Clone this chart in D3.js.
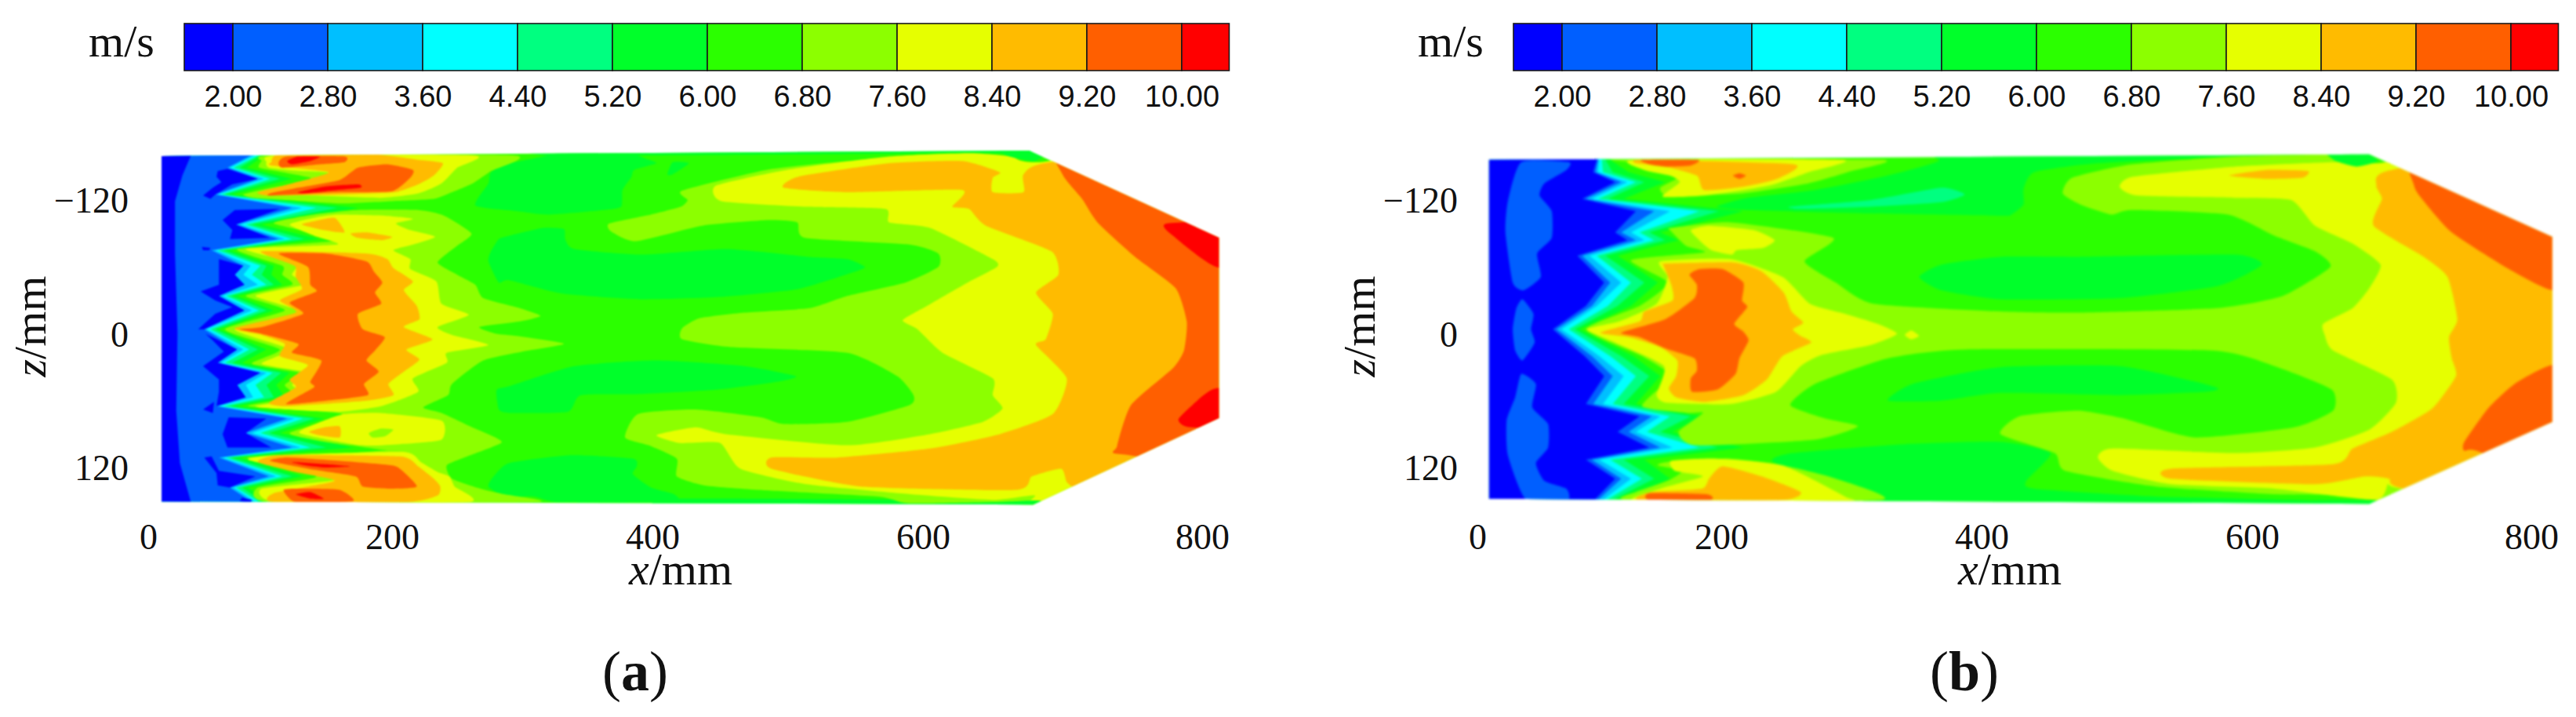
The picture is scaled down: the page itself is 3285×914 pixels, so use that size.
<!DOCTYPE html>
<html><head><meta charset="utf-8">
<script src="https://cdn.jsdelivr.net/npm/d3@7"></script>
<style>html,body{margin:0;background:#fff}svg{display:block}text{font-family:"Liberation Serif",serif;fill:#111}</style>
</head><body><script>
// ---- categories, ticks, colours
const barTicks=[2,2.8,3.6,4.4,5.2,6,6.8,7.6,8.4,9.2,10];
const barEdges=[1.59,2,2.8,3.6,4.4,5.2,6,6.8,7.6,8.4,9.2,10,10.4];
const bandColors=['#0000ff','#005fff','#00bfff','#00ffff','#00ff80','#00ff2a','#2bff00','#8cff00','#e6ff00','#ffbb00','#ff5f00','#ff0000'];
const xTicks=[0,200,400,600,800];
const zTicks=[-120,0,120];
const xPositions=[0,200,400,600,800];
const xPixels=[189,500,832,1177,1533];

// ---- panel (a): duct outline in mm [x,z]
const aOutline=[[11,-159.5],[676,-164.4],[812,-86.3],[812,75.7],[679,153.2],[11,150.4]];
// inlet iso-speed fronts: x (mm) at the z (mm) of each zigzag tip
const aTipZ=[-160,-149,-139,-125,-113,-98,-85,-75,-61,-53,-44,-34,-21,-4,14,26,35,46,57,65,76,89,102,111,128,138,150];
const aFront28=[84,65,90,55,118,72,107,52,78,71,79,58,79,46,73,57,92,73,80,56,114,80,118,58,99,67,84];
const aFront36=[87,67,95,57,126,76,112,55,84,78,90,61,85,48,78,60,97,80,86,58,120,85,125,61,105,70,87];
const aFront44=[90,70,100,60,138,80,118,57,92,85,97,64,91,51,83,63,102,88,95,62,127,92,133,64,110,72,90];
const aFront52=[92,75,108,63,155,85,128,62,97,93,103,68,97,55,90,69,109,97,103,67,136,99,146,68,118,77,93];
const aFront60=[95,81,118,69,172,93,140,67,103,101,110,73,103,58,97,77,116,105,112,73,144,108,168,75,127,82,97];
// below 6.0 m/s downstream
const aLow60=[
[[293,-157],[276,-145],[274,-135],[264,-115],[296,-110],[320,-107],[362,-111],[376,-114],[377,-129],[384,-141],[386,-147],[403,-153],[395,-157],[381,-162],[328,-162],[316,-159],[290,-153]],
[[411,-143],[415,-154],[427,-153],[415,-143]],
[[290,-88],[316,-95],[332,-94],[333,-85],[340,-76],[392,-71],[455,-76],[516,-69],[544,-67],[557,-60],[548,-55],[507,-40],[449,-33],[392,-31],[331,-36],[290,-48],[282,-46],[274,-65],[276,-74],[282,-85]],
[[290,47],[340,29],[403,24],[468,29],[506,38],[493,43],[449,50],[392,54],[345,55],[335,70],[290,71],[282,68],[280,52],[282,49]],
[[274,137],[278,128],[290,116],[337,109],[385,112],[388,119],[385,126],[399,138],[416,144],[416,151],[328,151],[309,146],[287,146]],
[[416,148],[620,149],[676,148],[680,156],[416,156]],
[[320,-160],[520,-161],[620,-162],[672,-162],[672,-168],[320,-168]]
];
// below 2.0 m/s
const aLow20=[
[[0,-170],[35,-170],[35,-160],[28,-142],[22,-119],[22,-72],[24,-1],[23,69],[26,116],[35,151],[35,165],[0,165]],
[[57,-146],[65,-148],[90,-139],[69,-134],[55,-125],[51,-121],[45,-124],[53,-131],[60,-136],[56,-141]],
[[61,-102],[71,-111],[108,-112],[72,-98],[100,-86],[67,-85],[69,-93]],
[[44,-78],[51,-77],[50,-75],[45,-75]],
[[58,-67],[78,-61],[71,-53],[79,-44],[58,-34],[79,-21],[46,-4],[41,-4],[55,-18],[69,-24],[55,-30],[43,-38],[58,-44],[58,-53]],
[[47,0],[73,14],[57,26],[92,35],[73,46],[80,57],[56,65],[58,52],[58,41],[45,29],[62,16],[52,5]],
[[45,68],[54,61],[53,71]],
[[66,75],[97,76],[80,89],[101,102],[65,102],[61,90]],
[[46,111],[52,110],[58,123],[88,128],[67,138],[57,136],[56,125]],
[[77,147],[85,149],[84,152],[75,150]]
];
const aHigh68=[
[[101,-160],[294,-160],[276,-146],[262,-135],[246,-127],[232,-121],[200,-119],[157,-117],[114,-120],[86,-122],[78,-125],[101,-131],[127,-136],[133,-140],[110,-145],[91,-149],[93,-155]],
[[103,-99],[136,-107],[172,-111],[220,-111],[240,-106],[261,-90],[250,-79],[235,-64],[250,-53],[264,-44],[270,-32],[298,-23],[314,-16],[298,-11],[267,-6],[280,0],[296,2],[332,9],[300,16],[270,24],[246,45],[243,55],[224,66],[238,71],[260,83],[284,97],[240,104],[200,105],[166,100],[140,96],[116,89],[159,72],[82,65],[121,57],[112,46],[124,35],[85,27],[108,14],[63,-4],[112,-21],[80,-34],[118,-44],[110,-53],[110,-61],[73,-76],[155,-84]],
[[81,111],[136,110],[189,105],[220,104],[284,97],[260,109],[242,118],[246,130],[268,139],[286,144],[311,151],[101,151],[90,138],[138,128]],
[[422,-128.5],[484,-147],[544,-155],[605,-161],[658,-160],[682,-153],[850,-170],[850,170],[680,158],[668,151],[590,152],[567,146],[478,140],[438,136],[418,128],[418,112],[397,100],[379,93],[389,72],[432,68],[480,75],[497,81],[544,79],[590,64],[593,55],[581,38],[544,17],[458,12],[422,5],[422,-5],[435,-14],[468,-19],[516,-23],[544,-34],[587,-46],[611,-60],[611,-72],[590,-80],[513,-86],[507,-100],[486,-102],[437,-97],[387,-83],[368,-92],[367,-99],[399,-107],[421,-114],[426,-120]]
];
const aHigh76=[
[[105,-160],[263,-160],[250,-149],[238,-135],[220,-126],[191,-122],[136,-124],[93,-126],[83,-125],[110,-129],[148,-144],[123,-146],[99,-149],[97,-154]],
[[116,-98],[140,-105],[157,-107],[194,-106],[216,-103],[203,-99],[214,-93],[233,-87],[216,-80],[201,-75],[214,-67],[214,-58],[234,-47],[238,-27],[259,-17],[235,-6],[246,1],[274,10],[242,17],[242,26],[216,40],[220,52],[191,65],[157,70],[114,68],[88,65],[131,57],[118,46],[131,35],[93,27],[116,14],[71,-4],[126,-19],[88,-34],[127,-44],[118,-53],[121,-63],[80,-76],[155,-80],[136,-88]],
[[161,72],[191,71],[238,78],[238,95],[206,99],[174,100],[124,89],[144,78]],
[[82,113],[103,109],[208,106],[222,115],[235,124],[244,128],[248,137],[259,151],[106,151],[93,139],[153,131],[118,122]],
[[447,-133],[499,-147],[575,-159],[634,-162],[663,-159],[684,-154],[850,-170],[850,170],[684,155],[680,145],[650,149],[591,144],[514,135],[465,121],[450,98],[420,98],[403,91],[432,84],[454,90],[544,100],[605,90],[643,79],[657,67],[650,55],[650,40],[614,17],[596,-4],[585,-12],[600,-23],[632,-46],[653,-60],[650,-67],[605,-95],[575,-100],[572,-112],[514,-114],[451,-119]]
];
const aIsland68=[[[181,89],[191,85],[201,86],[194,92],[184,93]]];
const aHigh84=[
[[101,-151],[148,-145],[118,-135],[90,-127],[99,-124],[157,-125],[202,-127],[220,-134],[232,-142],[239,-153],[220,-156],[185,-161],[108,-161],[101,-154]],
[[126,-98],[136,-101],[153,-104],[161,-91],[144,-93]],
[[166,-90],[179,-91],[200,-87],[191,-84],[172,-86]],
[[93,-74],[179,-72],[196,-67],[201,-59],[216,-47],[209,-39],[219,-25],[221,-13],[209,-6],[231,5],[211,14],[221,23],[209,34],[197,45],[201,55],[179,60],[114,65],[99,62],[121,48],[116,41],[131,28],[108,20],[112,9],[93,1],[71,-5],[121,-19],[108,-30],[126,-40],[121,-51],[120,-61]],
[[132,88],[144,84],[157,83],[157,93],[140,91]],
[[90,115],[108,109],[206,110],[220,119],[232,130],[237,137],[235,145],[212,151],[103,151],[103,143],[153,132],[121,124]],
[[497,-131],[508,-141],[575,-153],[628,-155],[655,-145],[650,-140],[650,-127],[672,-127],[672,-143],[692,-154],[860,-170],[860,170],[720,148],[710,140],[703,133],[699,121],[678,128],[667,140],[554,137],[488,121],[488,111],[537,111],[605,103],[655,90],[693,72],[703,40],[681,10],[688,5],[693,-18],[681,-37],[697,-53],[692,-74],[645,-97],[633,-112],[621,-114],[628,-129],[544,-127]]
];
const aHigh92=[
[[107,-154],[114,-159],[161,-159],[161,-154],[140,-152],[110,-149]],
[[100,-126],[123,-131],[157,-138],[172,-149],[196,-152],[216,-147],[214,-140],[200,-128],[157,-127],[101,-124]],
[[107,-72],[146,-72],[179,-65],[185,-56],[192,-46],[186,-37],[191,-27],[172,-18],[176,-4],[194,3],[186,15],[179,24],[189,34],[177,45],[180,55],[146,60],[113,63],[136,48],[133,43],[142,24],[118,17],[123,9],[93,0],[75,-4],[93,-6],[127,-18],[116,-28],[138,-38],[133,-44],[131,-60]],
[[100,114],[114,111],[157,114],[200,118],[208,123],[219,137],[200,139],[176,137],[170,128],[136,122]],
[[111,140],[127,139],[157,140],[168,150],[121,151]],
[[700,-170],[700,-143],[714,-121],[725,-100],[752,-69],[781,-41],[789,-11],[787,15],[779,31],[749,64],[739,101],[742,108],[860,108],[860,-170]]
];
const aHigh100=[
[[114,-155],[123,-159],[141,-159],[133,-155],[118,-152]],
[[123,-127],[144,-132],[172,-134],[174,-131],[146,-128],[127,-126]],
[[118,115],[146,117],[166,119],[146,120],[129,118]],
[[121,144],[133,142],[144,148],[133,148]],
[[775,-99],[781,-86],[810,-60],[860,-50],[860,-100]],
[[810,49],[793,64],[783,77],[792,84],[860,84],[860,49]]
];
const aCorner60=[[[655,-165],[662,-159],[680,-155],[692,-165]],[[645,152],[670,150],[685,150],[670,160]]];

// ---- panel (b)
const bOutline=[[9.6,-156],[684,-161],[815,-87],[815,79],[684,152.5],[9.6,148]];
const bTipZ=[-156,-145,-136,-121,-110,-91,-84,-70,-46,-25,-4,20,38,63,74,88,102,113,130,149];
const bFront20=[98,95,113,86,130,113,123,82,104,89,62,88,104,89,133,115,141,89,113,96];
const bFront28=[99,97,118,89,145,118,130,86,109,94,65,94,111,95,143,124,150,94,118,99];
const bFront36=[100,99,123,94,158,126,137,92,118,98,69,100,120,103,150,130,160,100,126,103];
const bFront44=[102,103,130,99,182,133,145,98,126,107,75,109,130,111,158,139,182,109,135,106];
const bFront52=[105,111,137,107,198,141,154,105,137,115,80,118,141,120,175,150,197,120,145,111];
const bFront60=[109,124,154,120,217,150,165,115,148,126,84,128,150,130,184,160,217,137,158,118];
const bIsland28=[
[[36,-154],[75,-154],[73,-147],[55,-135],[51,-124],[61,-110],[61,-86],[49,-72],[52,-51],[38,-39],[29,-46],[23,-91],[25,-119]],
[[37,-31],[46,-18],[44,-4],[47,8],[37,24],[31,15],[29,-4],[32,-23]],
[[36,36],[48,45],[45,66],[58,81],[58,102],[48,116],[55,132],[73,139],[74,149],[40,149],[25,109],[24,78],[31,57]]
];
const bLow60=[
[[367,-155],[328,-142],[272,-129],[220,-122],[196,-114],[220,-111],[315,-108],[414,-106],[422,-107],[431,-116],[431,-130],[439,-145],[486,-153],[587,-159],[672,-161],[680,-170],[367,-170]],
[[352,-51],[369,-62],[414,-69],[471,-69],[587,-71],[607,-62],[575,-43],[502,-32],[414,-31],[369,-39]],
[[328,60],[347,45],[414,30],[502,29],[558,43],[575,49],[566,52],[502,55],[414,53],[369,60]],
[[255,107],[341,99],[414,97],[451,107],[433,132],[439,139],[529,146],[680,151],[680,160],[340,160],[300,140],[240,115]]
];
const bLow52=[[[253,-114],[315,-120],[369,-131],[387,-125],[369,-118],[315,-114],[262,-112]]];
const bHigh68=[
[[117,-156],[323,-156],[300,-146],[267,-135],[217,-126],[157,-124],[150,-131],[165,-140],[158,-142],[137,-147],[124,-154]],
[[159,-95],[207,-100],[286,-86],[264,-65],[288,-46],[317,-27],[414,-20],[470,-19],[574,-23],[622,-34],[656,-60],[645,-74],[616,-88],[582,-107],[511,-111],[496,-107],[473,-116],[460,-126],[467,-140],[511,-152],[587,-159],[673,-161],[687,-152],[860,-170],[860,170],[680,146],[615,144],[529,137],[462,123],[454,107],[414,90],[428,74],[471,69],[505,76],[558,93],[630,84],[658,69],[657,50],[616,29],[570,15],[388,14],[328,22],[272,45],[253,64],[280,76],[305,83],[272,95],[179,100],[165,88],[185,71],[172,71],[135,65],[158,38],[135,20],[89,-4],[133,-25],[156,-46],[126,-66],[186,-73],[171,-79],[158,-93]],
[[323,149],[288,130],[247,118],[207,112],[156,115],[148,118],[168,123],[156,132],[130,142],[125,149]]
];
const bHigh76=[
[[128,-156],[293,-156],[267,-145],[237,-133],[186,-124],[152,-123],[166,-136],[158,-142],[137,-147]],
[[175,-93],[190,-97],[225,-93],[241,-84],[232,-77],[212,-75],[208,-71],[192,-75],[182,-84]],
[[150,-65],[207,-67],[247,-51],[268,-27],[295,-18],[320,-9],[335,0],[315,10],[277,19],[261,29],[242,52],[207,63],[156,62],[147,55],[153,29],[113,8],[90,-4],[116,-11],[147,-27],[156,-51]],
[[341,1],[346,-3],[352,2],[346,5]],
[[159,114],[196,112],[247,118],[295,146],[295,150],[130,150],[150,139],[185,128],[162,123]],
[[502,-132],[512,-141],[587,-150],[658,-154],[689,-153],[860,-170],[860,170],[706,139],[698,132],[689,149],[616,139],[540,135],[497,123],[486,111],[497,103],[587,107],[645,102],[684,86],[703,62],[700,41],[658,15],[652,1],[651,-9],[672,-23],[684,-41],[692,-62],[672,-81],[645,-97],[628,-120],[587,-122],[515,-124]]
];
const bHigh84=[
[[135,-156],[256,-152],[243,-139],[217,-132],[186,-129],[180,-142],[154,-150],[130,-153]],
[[154,-63],[209,-64],[231,-56],[248,-37],[254,-20],[263,-10],[255,-4],[261,2],[269,8],[247,20],[235,41],[217,55],[186,61],[163,57],[157,49],[163,38],[164,24],[150,12],[124,3],[101,-1],[133,-11],[137,-20],[160,-30],[159,-44],[152,-63]],
[[190,130],[201,119],[231,128],[261,142],[247,149],[133,149],[143,142],[184,139]],
[[583,-142],[610,-147],[640,-146],[636,-140],[610,-139]],
[[689,-133],[700,-147],[860,-170],[860,170],[709,139],[698,130],[681,128],[645,135],[540,130],[540,121],[658,117],[672,103],[700,88],[729,67],[746,38],[743,22],[741,3],[747,-13],[740,-51],[723,-69],[687,-97],[693,-121]]
];
const bHigh92=[
[[135,-156],[181,-156],[175,-151],[154,-150],[141,-152]],
[[209,-142],[214,-144],[219,-142],[214,-139]],
[[174,-53],[182,-58],[201,-58],[217,-46],[216,-30],[220,-24],[210,-9],[217,-2],[221,6],[214,22],[211,36],[197,50],[176,52],[175,40],[180,33],[178,22],[154,13],[133,3],[118,-1],[154,-13],[178,-32],[180,-44]],
[[141,143],[188,144],[191,149],[141,149]],
[[716,-170],[716,-133],[723,-119],[743,-91],[784,-58],[815,-39],[860,-39],[860,-170]],
[[815,28],[788,45],[769,67],[752,97],[752,105],[765,107],[860,170],[860,28]]
];
const bCorner60=[[[653,-163],[680,-163],[690,-155],[675,-150],[660,-155]],[[640,150],[670,149],[690,150],[670,160]]];

// ---- drawing
const W=3285,H=914;
const svg=d3.select('body').append('svg').attr('width',W).attr('height',H).attr('viewBox',[0,0,W,H]);
const zScale=d3.scaleLinear().domain([-120,0,120]).range([255,425.5,596]);
const barScale=d3.scaleLinear().domain([2,10]).range([297,1507]);

function front(xs,zs){
  const pts=zs.map((z,i)=>[xs[i],z]);
  return [[-30,-175],[xs[0],-175],...pts,[xs[xs.length-1],175],[-30,175]];
}
function drawPanel(id,dx,outline,layers,blur){
  const xScale=d3.scaleLinear().domain(xPositions).range(xPixels.map(p=>p+dx));
  const g=svg.append('g');
  const straight=d3.line().x(d=>xScale(d[0])).y(d=>zScale(d[1])).curve(d3.curveLinearClosed);
  const rounded=d3.line().x(d=>xScale(d[0])).y(d=>zScale(d[1])).curve(d3.curveCardinalClosed.tension(0.45));
  g.append('clipPath').attr('id','clip'+id).append('path').attr('d',straight(outline));
  const field=g.append('g').style('filter',`blur(${blur}px)`).append('g').attr('clip-path',`url(#clip${id})`);
  field.append('rect').attr('x',dx+150).attr('y',150).attr('width',1500).attr('height',550).attr('fill',bandColors[6]);
  layers.forEach(([band,polys,isFront])=>{
    field.append('g').attr('fill',bandColors[band]).selectAll('path').data(polys).join('path').attr('d',isFront?straight:rounded);
  });
  // colour bar
  const bar=g.append('g').attr('transform',`translate(${dx},0)`);
  bar.selectAll('rect').data(d3.pairs(barEdges)).join('rect')
    .attr('x',d=>barScale(d[0])).attr('width',d=>barScale(d[1])-barScale(d[0]))
    .attr('y',30).attr('height',60).attr('fill',(d,i)=>bandColors[i]).attr('stroke','#1a1a1a').attr('stroke-width',1.6);
  const barAxis=d3.axisBottom(barScale).tickValues(barTicks).tickSize(0).tickPadding(0).tickFormat(d3.format('.2f'));
  bar.append('g').attr('transform','translate(0,107)').call(barAxis).call(a=>a.select('.domain').remove())
    .attr('font-family',null).attr('font-size',null).selectAll('text').attr('dy',0).attr('y',29)
    .style('font-size','38px').style('font-family','"Liberation Sans",sans-serif');
  g.append('text').attr('x',155+dx).attr('y',72).attr('text-anchor','middle').style('font-size','58px').text('m/s');
  // axes
  const xAxis=d3.axisBottom(xScale).tickValues(xTicks).tickSize(0).tickPadding(0);
  g.append('g').attr('transform','translate(0,700)').call(xAxis).call(a=>a.select('.domain').remove())
    .attr('font-family',null).selectAll('text').attr('dy',0).attr('y',0).style('font-size','46px').style('font-family','"Liberation Serif",serif');
  const zAxis=d3.axisLeft(zScale).tickValues(zTicks).tickSize(0).tickPadding(0).tickFormat(d=>d<0?'\u2212'+Math.abs(d):d);
  g.append('g').attr('transform',`translate(${164+dx},0)`).call(zAxis).call(a=>a.select('.domain').remove())
    .attr('font-family',null).selectAll('text').attr('dy','0.34em').attr('x',0).style('font-size','46px').style('font-family','"Liberation Serif",serif');
  const xl=g.append('text').attr('x',868+dx).attr('y',745).attr('text-anchor','middle').style('font-size','58px');
  xl.append('tspan').style('font-style','italic').text('x');xl.append('tspan').text('/mm');
  const zl=g.append('text').attr('transform',`translate(${58+dx},416) rotate(-90)`).attr('text-anchor','middle').style('font-size','58px');
  zl.append('tspan').style('font-style','italic').text('z');zl.append('tspan').text('/mm');
  const cap=g.append('text').attr('x',810+dx).attr('y',880).attr('text-anchor','middle').style('font-size','72px');
  cap.append('tspan').text('(');cap.append('tspan').style('font-weight','bold').text(id);cap.append('tspan').text(')');
}
drawPanel('a',0,aOutline,[
 [5,aLow60],
 [5,[front(aFront60,aTipZ)],true],[4,[front(aFront52,aTipZ)],true],[3,[front(aFront44,aTipZ)],true],[2,[front(aFront36,aTipZ)],true],[1,[front(aFront28,aTipZ)],true],
 [0,aLow20,true],[7,aHigh68],[8,aHigh76],[7,aIsland68],[9,aHigh84],[10,aHigh92],[11,aHigh100],[5,aCorner60]
],1.1);
drawPanel('b',1695,bOutline,[
 [5,bLow60],[4,bLow52],
 [5,[front(bFront60,bTipZ)],true],[4,[front(bFront52,bTipZ)],true],[3,[front(bFront44,bTipZ)],true],[2,[front(bFront36,bTipZ)],true],[1,[front(bFront28,bTipZ)],true],[0,[front(bFront20,bTipZ)],true],
 [1,bIsland28],[7,bHigh68],[8,bHigh76],[9,bHigh84],[10,bHigh92],[5,bCorner60]
],1.6);
</script></body></html>
